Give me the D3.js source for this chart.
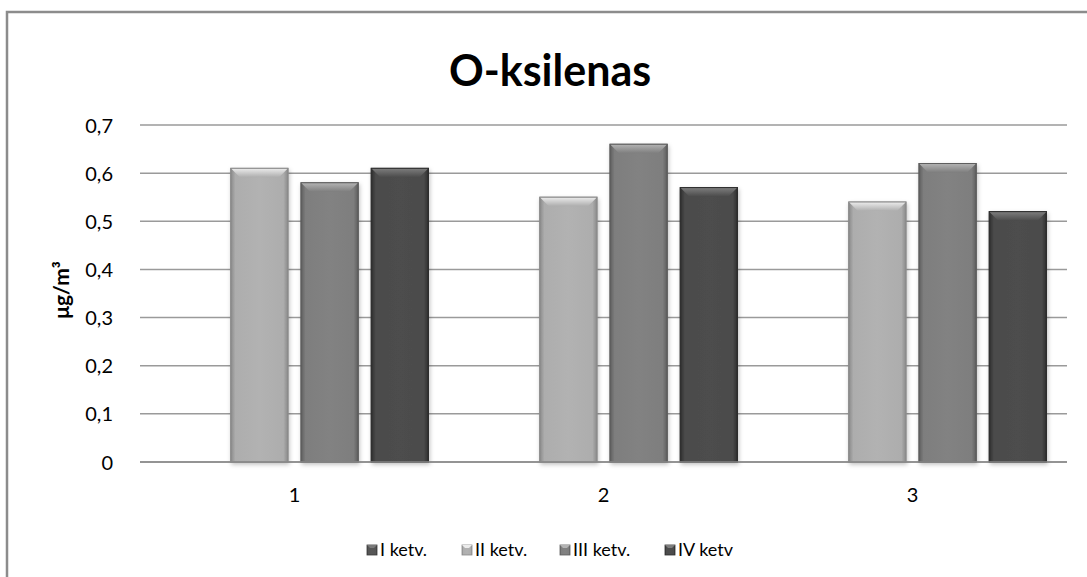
<!DOCTYPE html>
<html>
<head>
<meta charset="utf-8">
<script src="https://cdn.jsdelivr.net/npm/d3@7"></script>
<style>
  html, body { margin: 0; padding: 0; background: #fff; }
  svg { display: block; }
  text { font-family: Lato, "Open Sans", sans-serif; fill: #000; }
</style>
</head>
<body>
<svg id="chart" width="1087" height="577"></svg>
<script>
const categories = ["1", "2", "3"];
const seriesNames = ["I ketv.", "II ketv.", "III ketv.", "IV ketv"];
const seriesI   = [0, 0, 0];
const seriesII  = [0.61, 0.55, 0.54];
const seriesIII = [0.58, 0.66, 0.62];
const seriesIV  = [0.61, 0.57, 0.52];
const yTicks = [0, 0.1, 0.2, 0.3, 0.4, 0.5, 0.6, 0.7];
const titleText = "O-ksilenas";
const yLabel = "μg/m³";

const seriesValues = [seriesI, seriesII, seriesIII, seriesIV];
const colors = [
  {base: "#555555", light: "#7a7a7a", dark: "#3a3a3a"},
  {base: "#adadad", light: "#ececec", dark: "#8a8a8a"},
  {base: "#7e7e7e", light: "#b4b4b4", dark: "#5e5e5e"},
  {base: "#4b4b4b", light: "#7e7e7e", dark: "#2e2e2e"}
];

const svg = d3.select("#chart");
const W = 1087, H = 577;
const plot = {left: 140, right: 1067, top: 125, bottom: 462};

const defs = svg.append("defs");
colors.forEach((c, i) => {
  const g = defs.append("linearGradient").attr("id", "grad" + i)
    .attr("x1", "0").attr("x2", "1").attr("y1", "0").attr("y2", "0");
  g.append("stop").attr("offset", "0%").attr("stop-color", c.dark);
  g.append("stop").attr("offset", "8%").attr("stop-color", c.base);
  g.append("stop").attr("offset", "50%").attr("stop-color", d3.color(c.base).brighter(0.08));
  g.append("stop").attr("offset", "92%").attr("stop-color", c.base);
  g.append("stop").attr("offset", "100%").attr("stop-color", c.dark);
  const t = defs.append("linearGradient").attr("id", "top" + i)
    .attr("x1", "0").attr("x2", "0").attr("y1", "0").attr("y2", "1");
  t.append("stop").attr("offset", "0%").attr("stop-color", c.light);
  t.append("stop").attr("offset", "100%").attr("stop-color", c.base);
});
const f = defs.append("filter").attr("id", "shadow")
  .attr("x", "-20%").attr("y", "-5%").attr("width", "140%").attr("height", "115%");
f.append("feDropShadow").attr("dx", 1).attr("dy", 2).attr("stdDeviation", 2)
  .attr("flood-color", "#000").attr("flood-opacity", 0.25);

svg.append("path")
  .attr("d", `M7,${H} L7,12 L${W},12`)
  .attr("fill", "none").attr("stroke", "#8c8c8c").attr("stroke-width", 2.5);

const x0 = d3.scaleBand().domain(categories).range([plot.left, plot.right]).padding(0);
const x1 = d3.scaleBand().domain(d3.range(seriesNames.length))
  .range([0, x0.bandwidth()]).paddingInner(0.186).paddingOuter(0.293);
const y = d3.scaleLinear().domain([0, 0.7]).range([plot.bottom, plot.top]);

svg.append("g").selectAll("line").data(yTicks).join("line")
  .attr("x1", plot.left).attr("x2", plot.right)
  .attr("y1", d => y(d)).attr("y2", d => y(d))
  .attr("stroke", "#9a9a9a").attr("stroke-width", 1.5);

const yAxis = d3.axisLeft(y).tickValues(yTicks).tickSize(0).tickPadding(0)
  .tickFormat(d => d === 0 ? "0" : d3.format(".1f")(d).replace(".", ","));
const ya = svg.append("g").attr("transform", `translate(113,0)`).call(yAxis);
ya.select(".domain").remove();
ya.selectAll("text").attr("font-size", 20).attr("font-family", "Lato, sans-serif").attr("fill", "#000").attr("dy", "0.35em");

const xAxis = d3.axisBottom(x0).tickSize(0).tickPadding(0);
const xa = svg.append("g").attr("transform", `translate(0,488)`).call(xAxis);
xa.select(".domain").remove();
xa.selectAll("text").attr("font-size", 20).attr("font-family", "Lato, sans-serif").attr("fill", "#000").attr("dy", "0.71em");

const bevel = 9;
const groups = svg.append("g").selectAll("g").data(categories).join("g")
  .attr("transform", d => `translate(${x0(d)},0)`);
groups.each(function(cat, ci) {
  const g = d3.select(this);
  seriesValues.forEach((vals, si) => {
    const v = vals[ci];
    if (!v) return;
    const bx = x1(si), bw = x1.bandwidth();
    const by = y(v), bh = y(0) - y(v);
    const bg = g.append("g");
    bg.append("rect").attr("x", bx).attr("y", by).attr("width", bw).attr("height", bh)
      .attr("fill", `url(#grad${si})`).attr("stroke", colors[si].dark).attr("stroke-width", 1)
      .attr("filter", "url(#shadow)");
    bg.append("path")
      .attr("d", `M${bx},${by} L${bx + bw},${by} L${bx + bw - bevel},${by + bevel} L${bx + bevel},${by + bevel} Z`)
      .attr("fill", `url(#top${si})`);
    bg.append("rect").attr("x", bx).attr("y", by).attr("width", bw).attr("height", bh)
      .attr("fill", "none").attr("stroke", colors[si].dark).attr("stroke-width", 1);
  });
});

svg.append("line").attr("x1", plot.left).attr("x2", plot.right)
  .attr("y1", y(0)).attr("y2", y(0)).attr("stroke", "#8a8a8a").attr("stroke-width", 1.5);

svg.append("text").attr("x", 550).attr("y", 86).attr("text-anchor", "middle")
  .attr("font-size", 43).attr("font-weight", "bold").text(titleText);

svg.append("text").attr("transform", `translate(69,290) rotate(-90)`)
  .attr("text-anchor", "middle").attr("font-size", 21).attr("font-weight", "bold").text(yLabel);

const legendX = [367, 462, 560, 665];
const lg = svg.append("g").selectAll("g").data(seriesNames).join("g")
  .attr("transform", (d, i) => `translate(${legendX[i]},550)`);
lg.append("rect").attr("x", 0).attr("y", -5).attr("width", 10).attr("height", 10)
  .attr("fill", (d, i) => `url(#grad${i})`).attr("stroke", (d, i) => colors[i].dark).attr("stroke-width", 0.8);
lg.append("path").attr("d", "M0,-5 L10,-5 L7,-2 L3,-2 Z").attr("fill", (d, i) => colors[i].light);
lg.append("text").attr("x", 13).attr("y", 0).attr("dy", "0.35em").attr("font-size", 18).text(d => d);
</script>
</body>
</html>
